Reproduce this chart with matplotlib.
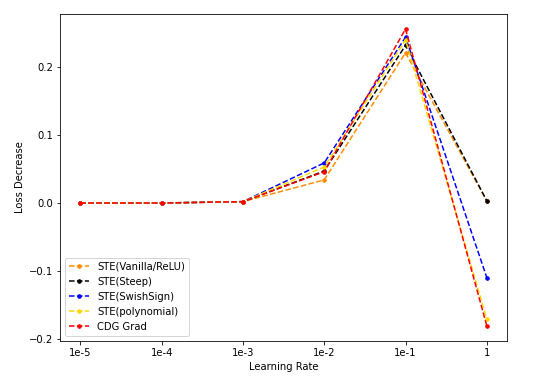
import matplotlib
matplotlib.use("Agg")
import matplotlib.pyplot as plt

lr_labels = ["1e-5", "1e-4", "1e-3", "1e-2", "1e-1", "1"]

ste_vanilla = [0.0, 0.0, 0.002, 0.034, 0.221, 0.003]
ste_steep = [0.0, 0.0, 0.002, 0.047, 0.232, 0.003]
ste_swish = [0.0, 0.0, 0.002, 0.059, 0.244, -0.110]
ste_poly = [0.0, 0.0, 0.002, 0.053, 0.240, -0.171]
cdg_grad = [0.0, 0.0, 0.002, 0.046, 0.256, -0.181]

series = [
    ("STE(Vanilla/ReLU)", ste_vanilla, "darkorange"),
    ("STE(Steep)", ste_steep, "black"),
    ("STE(SwishSign)", ste_swish, "blue"),
    ("STE(polynomial)", ste_poly, "gold"),
    ("CDG Grad", cdg_grad, "red"),
]

fig, ax = plt.subplots(figsize=(535 / 72, 383 / 72), dpi=72)
x = list(range(len(lr_labels)))
for label, vals, color in series:
    ax.plot(x, vals, ls="--", marker="o", markersize=3.5, color=color, label=label)

ax.set_xticks(x)
ax.set_xticklabels(lr_labels)
ax.set_yticks([-0.2, -0.1, 0.0, 0.1, 0.2])
ax.set_xlabel("Learning Rate")
ax.set_ylabel("Loss Decrease")
ax.legend(loc="lower left")

fig.subplots_adjust(left=0.112, right=0.948, top=0.963, bottom=0.11)
fig.savefig("out.png")
